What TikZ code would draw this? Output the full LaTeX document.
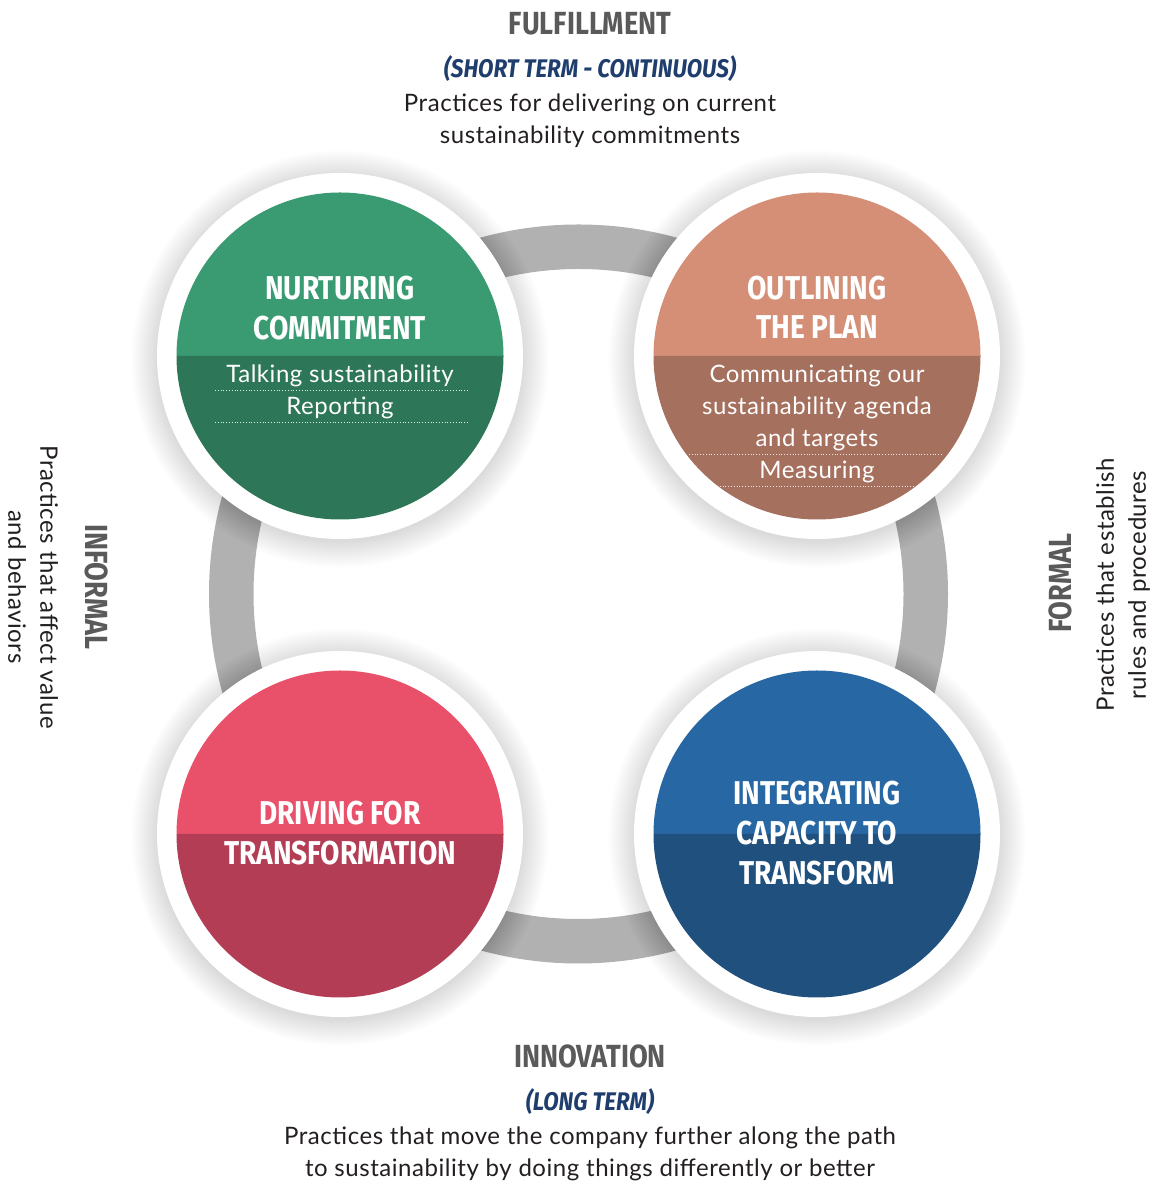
\documentclass[tikz,border=0pt]{standalone}
\usepackage{fontspec}
\setmainfont{Lato}[LetterSpace=2.3]
\newfontfamily\condfont[FakeStretch=0.85]{Fira Sans}
\newfontfamily\subfont[FakeStretch=0.88]{Fira Sans}
\definecolor{ringgray}{HTML}{B1B1B1}
\definecolor{headgray}{HTML}{5A5A5A}
\definecolor{subblue}{HTML}{1F3E6D}
\definecolor{bodytxt}{HTML}{231F20}
\definecolor{ncTop}{HTML}{3A9B73}
\definecolor{ncBot}{HTML}{2D7758}
\definecolor{opTop}{HTML}{D48F76}
\definecolor{opBot}{HTML}{A5705E}
\definecolor{dfTop}{HTML}{E9506A}
\definecolor{dfBot}{HTML}{B33D54}
\definecolor{icTop}{HTML}{2767A3}
\definecolor{icBot}{HTML}{1F507E}
\tikzset{
  disk/.style={circle, fill=white, minimum size=366pt, inner sep=0pt},
  ctitle/.style={anchor=base, text=white, font=\condfont\bfseries\fontsize{33}{40}\selectfont},
  citem/.style={anchor=base, text=white, font=\fontsize{24}{32}\selectfont},
  head/.style={anchor=base, text=headgray, font=\condfont\bfseries\fontsize{32}{38}\selectfont},
  sub/.style={anchor=base, text=subblue, font=\subfont\bfseries\itshape\fontsize{25.5}{30}\selectfont},
  body/.style={anchor=base, text=bodytxt, font=\fontsize{24}{32}\selectfont},
  vbody/.style={text=bodytxt, align=center, inner sep=0pt, font=\fontsize{24}{32}\selectfont},
  vhead/.style={text=headgray, inner sep=0pt, font=\condfont\bfseries\fontsize{32}{38}\selectfont},
  sep/.style={white, dotted, line width=0.8pt, opacity=0.85},
}
\begin{document}
\begin{tikzpicture}[x=1pt,y=1pt]
\useasboundingbox (0,0) rectangle (1155,1183);
\fill[white] (0,0) rectangle (1155,1183);
% gray ring
\coordinate (ring) at (578.5,589);
\fill[ringgray, even odd rule] (ring) circle[radius=369.5] (ring) circle[radius=325];
% circle centres
\coordinate (cNC) at (340,827);
\coordinate (cOP) at (817,827);
\coordinate (cDF) at (340,349);
\coordinate (cIC) at (817,349);
% soft shadows
\foreach \c in {cNC,cOP,cDF,cIC}{
  \foreach \k in {0,...,17}{
    \fill[black, opacity=0.009] ([yshift=-3pt]\c) circle[radius=183+\k*1.5];
  }
}
% white disks
\node[disk] (NC) at (cNC) {};
\node[disk] (OP) at (cOP) {};
\node[disk] (DF) at (cDF) {};
\node[disk] (IC) at (cIC) {};
% coloured halves
\foreach \c/\t/\b in {cNC/ncTop/ncBot, cOP/opTop/opBot, cDF/dfTop/dfBot, cIC/icTop/icBot}{
  \fill[\t] ([xshift=163.5pt]\c) arc[start angle=0, end angle=180, radius=163.5] -- cycle;
  \fill[\b] ([xshift=-163.5pt]\c) arc[start angle=180, end angle=360, radius=163.5] -- cycle;
}
% circle titles
\node[ctitle] (nc1) at (340,883) {NURTURING};
\node[ctitle] (nc2) at (340,843) {COMMITMENT};
\node[ctitle] (op1) at (817,883) {OUTLINING};
\node[ctitle] (op2) at (817,844) {THE PLAN};
\node[ctitle] (df1) at (340,358) {DRIVING FOR};
\node[ctitle] (df2) at (340,318) {TRANSFORMATION};
\node[ctitle] (ic1) at (817,378) {INTEGRATING};
\node[ctitle] (ic2) at (817,338) {CAPACITY TO};
\node[ctitle] (ic3) at (817,298) {TRANSFORM};
% circle items
\node[citem] (nci1) at (340,800) {Talking sustainability};
\node[citem] (nci2) at (340,768) {Reporting};
\draw[sep] (215,793) -- (468,793);
\draw[sep] (215,761) -- (468,761);
\node[citem] (opi1) at (817,800) {Communicating our};
\node[citem] (opi2) at (817,768) {sustainability agenda};
\node[citem] (opi3) at (817,736) {and targets};
\node[citem] (opi4) at (817,704) {Measuring};
\draw[sep] (689,729) -- (943,729);
\draw[sep] (689,697) -- (943,697);
% top labels
\node[head] (full) at (590,1148) {FULFILLMENT};
\node[sub] (short) at (590,1105) {(SHORT TERM - CONTINUOUS)};
\node[body] (fulld1) at (590,1071) {Practices for delivering on current};
\node[body] (fulld2) at (590,1039) {sustainability commitments};
% bottom labels
\node[head] (innov) at (590,115) {INNOVATION};
\node[sub] (long) at (590,72) {(LONG TERM)};
\node[body] (innovd1) at (590,38) {Practices that move the company further along the path};
\node[body] (innovd2) at (590,6) {to sustainability by doing things differently or better};
% left labels
\node[vhead, rotate=-90] (inf) at (97,596) {INFORMAL};
\node[vbody, rotate=-90] (infd) at (33,596) {Practices that affect value\\and behaviors};
% right labels
\node[vhead, rotate=90] (form) at (1060,600) {FORMAL};
\node[vbody, rotate=90] (formd) at (1123,598) {Practices that establish\\rules and procedures};
\end{tikzpicture}
\end{document}
